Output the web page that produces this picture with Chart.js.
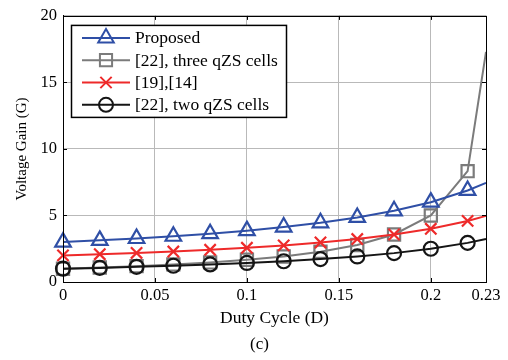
<!DOCTYPE html>
<html>
<head>
<meta charset="utf-8">
<script src="https://cdn.jsdelivr.net/npm/chart.js@4/dist/chart.umd.min.js"></script>
<style>
  html, body { margin: 0; padding: 0; background: #ffffff; }
  #wrap { width: 508px; height: 360px; position: relative; }
</style>
</head>
<body>
<div id="wrap"><canvas id="c" width="508" height="360"></canvas></div>
<script>
// ---- data ----
const dutyCycle      = [0, 0.02, 0.04, 0.06, 0.08, 0.10, 0.12, 0.14, 0.16, 0.18, 0.20, 0.22, 0.23];
const proposedGain   = [3.00, 3.13, 3.27, 3.44, 3.63, 3.86, 4.13, 4.45, 4.85, 5.35, 6.00, 6.88, 7.45];
const threeCellGain  = [1.00, 1.09, 1.19, 1.32, 1.47, 1.67, 1.92, 2.27, 2.78, 3.57, 5.00, 8.33, 17.3];
const ref19Gain      = [2.00, 2.09, 2.18, 2.29, 2.42, 2.57, 2.75, 2.97, 3.23, 3.57, 4.00, 4.59, 4.97];
const twoCellGain    = [1.00, 1.06, 1.14, 1.22, 1.32, 1.43, 1.56, 1.72, 1.92, 2.17, 2.50, 2.94, 3.23];
const seriesLabels   = ['Proposed', '[22], three qZS cells', '[19],[14]', '[22], two qZS cells'];
const xTickValues    = [0, 0.05, 0.1, 0.15, 0.2, 0.23];
const yTickValues    = [0, 5, 10, 15, 20];
const xAxisTitle     = 'Duty Cycle (D)';
const yAxisTitle     = 'Voltage Gain (G)';
const figureCaption  = '(c)';

const FONT = "'Liberation Serif', 'Times New Roman', serif";
const lastIdx = dutyCycle.length - 1;
function pts(vals) { return dutyCycle.map((d, i) => ({ x: d, y: vals[i] })); }

const styles = [
  { color: '#2f4fa6', style: 'triangle', r: 9,   order: 1 },
  { color: '#7b7b7b', style: 'rect',     r: 8.6, order: 3 },
  { color: '#ee2a2a', style: 'crossRot', r: 8,   order: 2 },
  { color: '#151515', style: 'circle',   r: 7,   order: 0 }
];
const seriesValues = [proposedGain, threeCellGain, ref19Gain, twoCellGain];

const datasets = seriesValues.map((vals, k) => ({
  label: seriesLabels[k],
  data: pts(vals),
  borderColor: styles[k].color,
  backgroundColor: 'rgba(0,0,0,0)',
  borderWidth: 2,
  pointStyle: styles[k].style,
  pointRadius: c => (c.dataIndex === lastIdx ? 0 : styles[k].r),
  pointBorderWidth: 2.2,
  pointBorderColor: styles[k].color,
  pointBackgroundColor: 'rgba(0,0,0,0)',
  tension: 0,
  order: styles[k].order,
  clip: false
}));

// box, inward ticks, in-plot legend and caption
const framePlugin = {
  id: 'frame',
  afterDraw(chart) {
    const { ctx, chartArea: a, scales } = chart;
    ctx.save();
    ctx.strokeStyle = '#000';
    ctx.lineWidth = 1;
    ctx.strokeRect(Math.round(a.left) + 0.5, Math.round(a.top) + 0.5,
                   Math.round(a.right - a.left), Math.round(a.bottom - a.top));
    const tl = 4;
    ctx.beginPath();
    xTickValues.forEach(v => {
      const px = Math.round(scales.x.getPixelForValue(v)) + 0.5;
      ctx.moveTo(px, a.bottom); ctx.lineTo(px, a.bottom - tl);
      ctx.moveTo(px, a.top); ctx.lineTo(px, a.top + tl);
    });
    yTickValues.forEach(v => {
      const py = Math.round(scales.y.getPixelForValue(v)) + 0.5;
      ctx.moveTo(a.left, py); ctx.lineTo(a.left + tl, py);
      ctx.moveTo(a.right, py); ctx.lineTo(a.right - tl, py);
    });
    ctx.stroke();

    // legend
    const bx = a.left + 8, by = a.top + 9, bw = 215, bh = 92;
    ctx.fillStyle = '#fff';
    ctx.fillRect(bx, by, bw, bh);
    ctx.strokeStyle = '#000';
    ctx.lineWidth = 1.5;
    ctx.strokeRect(bx + 0.5, by + 0.5, bw, bh);
    chart.data.datasets.forEach((ds, k) => {
      const cy = by + 13 + k * 22.3;
      ctx.strokeStyle = ds.borderColor;
      ctx.lineWidth = 2;
      ctx.beginPath();
      ctx.moveTo(bx + 11, cy); ctx.lineTo(bx + 59, cy);
      ctx.stroke();
      ctx.fillStyle = 'rgba(0,0,0,0)';
      Chart.helpers.drawPoint(ctx, { pointStyle: ds.pointStyle, radius: styles[k].r, borderWidth: 2.2, rotation: 0 }, bx + 35, cy);
      ctx.fillStyle = '#000';
      ctx.font = '17.5px ' + FONT;
      ctx.textBaseline = 'middle';
      ctx.textAlign = 'left';
      ctx.fillText(ds.label, bx + 64, cy + 1);
    });

    // caption
    ctx.fillStyle = '#000';
    ctx.font = '17px ' + FONT;
    ctx.textAlign = 'center';
    ctx.textBaseline = 'middle';
    ctx.fillText(figureCaption, (a.left + a.right) / 2 - 15, a.bottom + 63);
    ctx.restore();
  }
};

new Chart(document.getElementById('c'), {
  type: 'line',
  data: { datasets },
  options: {
    responsive: false,
    animation: false,
    devicePixelRatio: 1,
    layout: { padding: { top: 12, right: 22, left: 0, bottom: 28 } },
    plugins: {
      legend: { display: false },
      tooltip: { enabled: false },
      title: { display: false }
    },
    scales: {
      x: {
        type: 'linear',
        min: 0, max: 0.23,
        afterBuildTicks: s => { s.ticks = xTickValues.map(v => ({ value: v })); },
        afterFit: s => { s.height = 50; },
        ticks: {
          color: '#000',
          font: { family: FONT, size: 16.5 },
          padding: 4,
          maxRotation: 0,
          autoSkip: false,
          callback: v => String(+Number(v).toFixed(2))
        },
        grid: { color: '#b9b9b9', lineWidth: 1, drawTicks: false },
        border: { display: true, color: '#000' },
        title: {
          display: true, text: xAxisTitle, color: '#000',
          font: { family: FONT, size: 17.5 },
          padding: { top: 0, bottom: 3.5 }
        }
      },
      y: {
        type: 'linear',
        min: 0, max: 20,
        afterBuildTicks: s => { s.ticks = yTickValues.map(v => ({ value: v })); },
        afterFit: s => { s.width = 63; },
        ticks: {
          color: '#000',
          font: { family: FONT, size: 16.5 },
          padding: 6
        },
        grid: { color: '#b9b9b9', lineWidth: 1, drawTicks: false },
        border: { display: true, color: '#000' },
        title: {
          display: true, text: yAxisTitle, color: '#000',
          font: { family: FONT, size: 15 },
          padding: { top: 13, bottom: 0 }
        }
      }
    }
  },
  plugins: [framePlugin]
});
</script>
</body>
</html>
